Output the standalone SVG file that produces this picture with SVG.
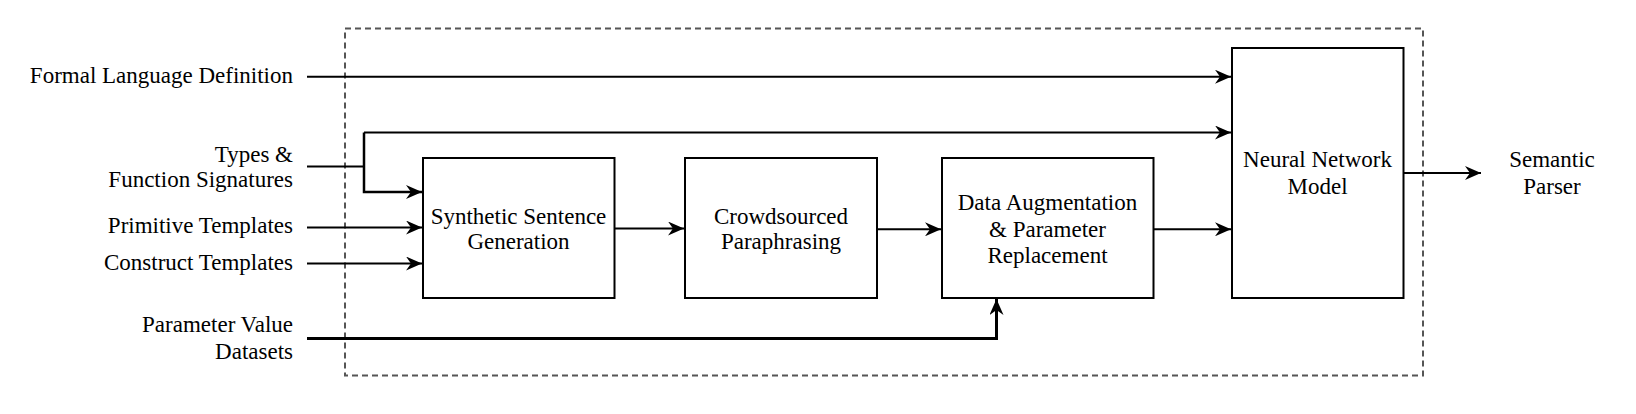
<svg xmlns="http://www.w3.org/2000/svg" width="1636" height="414" viewBox="0 0 1636 414" font-family="Liberation Serif, serif">
<style>
text{font-size:23px;fill:#000}
.lbl{text-anchor:end}
.mid{text-anchor:middle}
.box{fill:#fff;stroke:#000;stroke-width:2}
.ln{fill:none;stroke:#000;stroke-width:2}
.thick{fill:none;stroke:#000;stroke-width:3}
.frame{fill:none;stroke:#555;stroke-width:2;stroke-dasharray:6 4}
</style>
<defs>
<marker id="arr" viewBox="0 0 16 14" refX="16" refY="7" markerWidth="16" markerHeight="14" markerUnits="userSpaceOnUse" orient="auto">
<path d="M0,0 L16,7 L0,14 L5,7 Z" fill="#000"/>
</marker>
</defs>
<rect class="frame" x="345" y="28.5" width="1078" height="347"/>
<g id="inputs" font-family="Liberation Serif, serif">
<text class="lbl" x="293" y="83" font-family="Liberation Serif, serif">Formal Language Definition</text>
<text class="lbl" x="293" y="162" font-family="Liberation Serif, serif">Types &amp;</text>
<text class="lbl" x="293" y="187" font-family="Liberation Serif, serif">Function Signatures</text>
<text class="lbl" x="293" y="233" font-family="Liberation Serif, serif">Primitive Templates</text>
<text class="lbl" x="293" y="270" font-family="Liberation Serif, serif">Construct Templates</text>
<text class="lbl" x="293" y="332" font-family="Liberation Serif, serif">Parameter Value</text>
<text class="lbl" x="293" y="359" font-family="Liberation Serif, serif">Datasets</text>
</g>
<g id="synth" font-family="Liberation Serif, serif">
<rect class="box" x="423" y="158" width="191.5" height="140"/>
<text class="mid" x="518.5" y="224" font-family="Liberation Serif, serif">Synthetic Sentence</text>
<text class="mid" x="518.5" y="249" font-family="Liberation Serif, serif">Generation</text>
</g>
<g id="crowd" font-family="Liberation Serif, serif">
<rect class="box" x="685" y="158" width="192" height="140"/>
<text class="mid" x="781" y="224" font-family="Liberation Serif, serif">Crowdsourced</text>
<text class="mid" x="781" y="249" font-family="Liberation Serif, serif">Paraphrasing</text>
</g>
<g id="augment" font-family="Liberation Serif, serif">
<rect class="box" x="942" y="158" width="211.5" height="140"/>
<text class="mid" x="1047.5" y="210" font-family="Liberation Serif, serif">Data Augmentation</text>
<text class="mid" x="1047.5" y="237" font-family="Liberation Serif, serif">&amp; Parameter</text>
<text class="mid" x="1047.5" y="263" font-family="Liberation Serif, serif">Replacement</text>
</g>
<g id="neural" font-family="Liberation Serif, serif">
<rect class="box" x="1232" y="48" width="171.5" height="250"/>
<text class="mid" x="1317.5" y="167" font-family="Liberation Serif, serif">Neural Network</text>
<text class="mid" x="1317.5" y="194" font-family="Liberation Serif, serif">Model</text>
</g>
<g id="output" font-family="Liberation Serif, serif">
<text class="mid" x="1552" y="167" font-family="Liberation Serif, serif">Semantic</text>
<text class="mid" x="1552" y="194" font-family="Liberation Serif, serif">Parser</text>
</g>
<g id="connectors">
<path class="ln" d="M307,76.7 H1231" marker-end="url(#arr)"/>
<path class="ln" d="M307,166.5 H364"/>
<path class="ln" d="M364,132.5 H1231" marker-end="url(#arr)"/>
<path class="ln" d="M364,132.5 V192 H422" marker-end="url(#arr)" style="stroke-width:2.5"/>
<path class="ln" d="M307,227.5 H422" marker-end="url(#arr)"/>
<path class="ln" d="M307,263.5 H422" marker-end="url(#arr)"/>
<path class="ln" d="M614.5,228.5 H684" marker-end="url(#arr)"/>
<path class="ln" d="M877,229.3 H941" marker-end="url(#arr)"/>
<path class="ln" d="M1153.5,229.3 H1231" marker-end="url(#arr)"/>
<path class="thick" d="M307,338.5 H996.5 V299" marker-end="url(#arr)"/>
<path class="ln" d="M1403.5,173 H1481" marker-end="url(#arr)"/>
</g>
</svg>
